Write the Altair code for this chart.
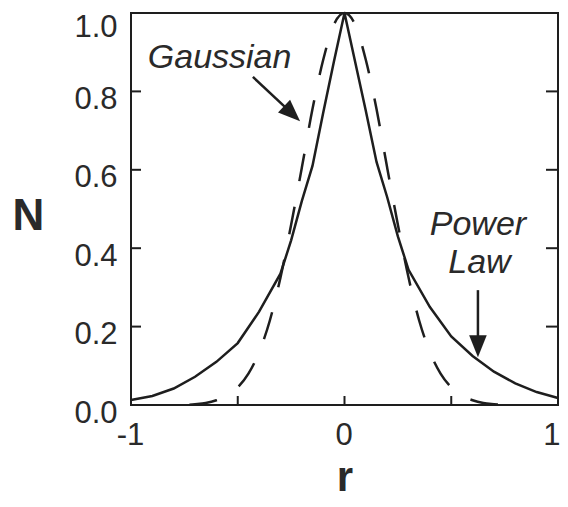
import math
import altair as alt
import pandas as pd

# ---------------- data ----------------
# Power-law (solid) curve
r_pow = [-1.0, -0.9, -0.8, -0.7, -0.6, -0.5, -0.4, -0.3, -0.25, -0.2, -0.15, -0.1, -0.05, 0.0,
         0.05, 0.1, 0.15, 0.2, 0.25, 0.3, 0.4, 0.5, 0.6, 0.7, 0.8, 0.9, 1.0]
n_pow = [0.013, 0.023, 0.042, 0.072, 0.11, 0.158, 0.238, 0.335, 0.42, 0.52, 0.61, 0.745, 0.875, 1.0,
         0.875, 0.75, 0.62, 0.53, 0.43, 0.345, 0.25, 0.175, 0.125, 0.085, 0.055, 0.033, 0.018]

# Gaussian (dashed) curve
r_gau = [-0.75, -0.7, -0.65, -0.6, -0.55, -0.5, -0.45, -0.4, -0.35, -0.3, -0.25, -0.2, -0.15, -0.1, -0.05, 0.0,
         0.05, 0.1, 0.15, 0.2, 0.25, 0.3, 0.35, 0.4, 0.45, 0.5, 0.55, 0.6, 0.65, 0.7, 0.75]
n_gau = [0.0, 0.002, 0.005, 0.012, 0.024, 0.045, 0.08, 0.135, 0.215, 0.325, 0.46, 0.605, 0.755, 0.88, 0.97, 1.0,
         0.97, 0.88, 0.755, 0.605, 0.46, 0.325, 0.215, 0.135, 0.08, 0.045, 0.024, 0.012, 0.005, 0.002, 0.0]

# axis labels / ticks
x_label_vals = [-1, 0, 1]
y_label_vals = [0.0, 0.2, 0.4, 0.6, 0.8, 1.0]
x_inner_ticks = [-0.5, 0.0, 0.5]
y_inner_ticks = [0.2, 0.4, 0.6, 0.8]

# annotations (data coordinates)
ann_text = ["Gaussian", "Power", "Law"]
ann_text_r = [-0.585, 0.625, 0.632]
ann_text_n = [0.86, 0.434, 0.337]

arrow_tail_r = [-0.429, 0.625]
arrow_tail_n = [0.837, 0.293]
arrow_tip_r = [-0.208, 0.625]
arrow_tip_n = [0.724, 0.122]

# ---------------- layout / style ----------------
W, H = 427, 392
INK = "#1e1e1e"
TXT = "#2a2a2a"
FONT = "Liberation Sans"
px_r = W / 2.0   # pixels per r unit
px_n = H / 1.0   # pixels per N unit

xs = alt.Scale(domain=[-1, 1], nice=False, zero=False)
ys = alt.Scale(domain=[0, 1], nice=False, zero=False)

pow_df = pd.DataFrame({"r": r_pow, "N": n_pow})
gau_df = pd.DataFrame({"r": r_gau, "N": n_gau})

# dash phase so that a dash is centred on the peak
DASH, GAP = 28, 26
s = 0.0
for i in range(len(r_gau) - 1):
    if r_gau[i] >= 0:
        break
    s += math.hypot((r_gau[i + 1] - r_gau[i]) * px_r, (n_gau[i + 1] - n_gau[i]) * px_n)
dash_offset = (DASH / 2.0 - s) % (DASH + GAP)

x_axis = alt.Axis(values=x_label_vals, labelExpr="datum.value + ''", ticks=False, domain=False,
                  grid=False, labelFlush=False, labelFontSize=31, labelPadding=15,
                  labelAlign={"condition": {"test": "datum.value == 1", "value": "right"},
                              "value": "center"},
                  labelOffset={"condition": {"test": "datum.value == 1", "value": 2}, "value": -1},
                  labelColor=TXT, labelFont=FONT, title="r", titleFont=FONT, titleFontSize=42,
                  titleFontWeight="bold", titleColor=TXT, titleX=W / 2, titleY=85,
                  titleBaseline="alphabetic", titleAlign="center")
y_axis = alt.Axis(values=y_label_vals, format=".1f", ticks=False, domain=False, grid=False,
                  labelFontSize=31, labelPadding=14,
                  labelOffset={"condition": {"test": "datum.value == 1", "value": 14}, "value": 8},
                  labelColor=TXT, labelFont=FONT,
                  title="N", titleFont=FONT, titleFontSize=44, titleFontWeight="bold",
                  titleColor=TXT, titleAngle=0, titleX=-103, titleY=203,
                  titleBaseline="middle", titleAlign="center")


def X(field):
    return alt.X(field, scale=xs, axis=x_axis)


def Y(field):
    return alt.Y(field, scale=ys, axis=y_axis)


power = alt.Chart(pow_df).mark_line(color=INK, strokeWidth=2.5).encode(x=X("r:Q"), y=Y("N:Q"))

gauss = alt.Chart(gau_df).mark_line(color=INK, strokeWidth=2.5, strokeDash=[DASH, GAP],
                                    strokeDashOffset=dash_offset, interpolate="monotone").encode(
    x=X("r:Q"), y=Y("N:Q"))

# inward ticks
left_ticks = alt.Chart(pd.DataFrame({"v": y_inner_ticks})).mark_rule(color=INK, strokeWidth=2).encode(
    y=Y("v:Q"), x=alt.value(0), x2=alt.value(10))
right_ticks = alt.Chart(pd.DataFrame({"v": y_inner_ticks})).mark_rule(color=INK, strokeWidth=2).encode(
    y=Y("v:Q"), x=alt.value(W - 12), x2=alt.value(W))
bottom_ticks = alt.Chart(pd.DataFrame({"v": x_inner_ticks})).mark_rule(color=INK, strokeWidth=2).encode(
    x=X("v:Q"), y=alt.value(H), y2=alt.value(H - 9))

# arrows
HEAD = 22
rows = []
for tr, tn, hr, hn in zip(arrow_tail_r, arrow_tail_n, arrow_tip_r, arrow_tip_n):
    dxp = (hr - tr) * px_r
    dyp = -(hn - tn) * px_n
    L = math.hypot(dxp, dyp)
    ux, uy = dxp / L, dyp / L
    base_r = hr - ux * (HEAD - 3) / px_r
    base_n = hn + uy * (HEAD - 3) / px_n
    rows.append({"tr": tr, "tn": tn, "br": base_r, "bn": base_n, "hr": hr, "hn": hn,
                 "ang": math.degrees(math.atan2(dyp, dxp))})
arr_df = pd.DataFrame(rows)

shafts = alt.Chart(arr_df).mark_rule(color=INK, strokeWidth=2.5).encode(
    x=X("tr:Q"), y=Y("tn:Q"), x2="br:Q", y2="bn:Q")
heads = alt.Chart(arr_df).mark_point(shape="M0,0L-2,-0.8L-2,0.8Z", filled=True, color=INK,
                                     opacity=1, size=HEAD * HEAD).encode(
    x=X("hr:Q"), y=Y("hn:Q"), angle=alt.Angle("ang:Q", scale=None))

labels = alt.Chart(pd.DataFrame({"t": ann_text, "r": ann_text_r, "N": ann_text_n})).mark_text(
    font=FONT, fontStyle="italic", fontSize=34, color=TXT, align="center",
    baseline="alphabetic").encode(x=X("r:Q"), y=Y("N:Q"), text="t:N")

chart = alt.layer(power, gauss, left_ticks, right_ticks, bottom_ticks, shafts, heads, labels).properties(
    width=W, height=H,
    autosize=alt.AutoSizeParams(type="none"),
    padding={"left": 123, "top": 5, "right": 2, "bottom": 94},
    background="white",
).configure_view(stroke=INK, strokeWidth=2)

chart.save("out.html", embed_options={"renderer": "svg", "actions": False})
